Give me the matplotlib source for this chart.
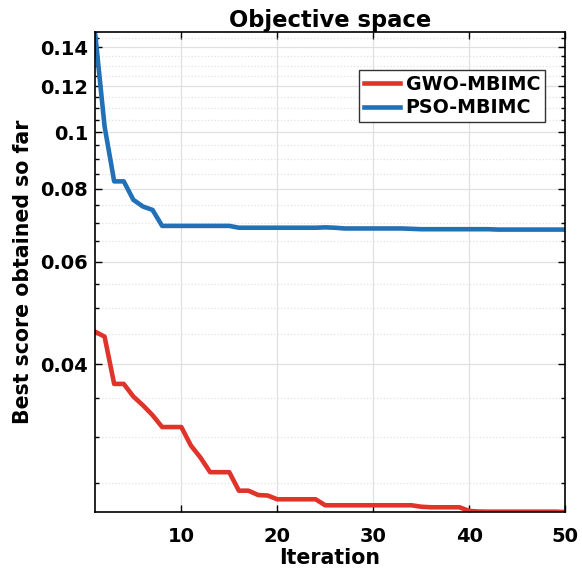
import numpy as np
import matplotlib
matplotlib.use("Agg")
import matplotlib.pyplot as plt
from matplotlib.ticker import FixedLocator, FuncFormatter, NullFormatter

# values
iterations = list(range(1, 51))
gwo_scores = [0.0455, 0.0446, 0.0370, 0.0370, 0.0352, 0.0340, 0.0327, 0.0312, 0.0312, 0.0312,
              0.0290, 0.02765, 0.0261, 0.0261, 0.0261, 0.02426, 0.02426, 0.02385, 0.0238, 0.02345,
              0.02345, 0.02345, 0.02345, 0.02345, 0.0229, 0.0229, 0.0229, 0.0229, 0.0229, 0.0229,
              0.0229, 0.0229, 0.0229, 0.0229, 0.02277, 0.02272, 0.02272, 0.02272, 0.02272, 0.0224,
              0.02234, 0.02233, 0.02233, 0.02233, 0.02233, 0.02233, 0.02233, 0.02233, 0.02233, 0.0223]
pso_scores = [0.1487, 0.1024, 0.0824, 0.0824, 0.0766, 0.0746, 0.0736, 0.0691, 0.0691, 0.0691,
              0.0691, 0.0691, 0.0691, 0.0691, 0.0691, 0.0686, 0.0686, 0.0686, 0.0686, 0.0686,
              0.0686, 0.0686, 0.0686, 0.0686, 0.0687, 0.0686, 0.0684, 0.0684, 0.0684, 0.0684,
              0.0684, 0.0684, 0.0684, 0.0683, 0.0682, 0.0682, 0.0682, 0.0682, 0.0682, 0.0682,
              0.0682, 0.0682, 0.0681, 0.0681, 0.0681, 0.0681, 0.0681, 0.0681, 0.0681, 0.0681]
labels = ["GWO-MBIMC", "PSO-MBIMC"]
y_major = [0.04, 0.06, 0.08, 0.1, 0.12, 0.14]
x_major = [10, 20, 30, 40, 50]

plt.rcParams["font.family"] = ["DejaVu Sans"]
plt.rcParams["font.weight"] = "bold"

fig = plt.figure(figsize=(5.82, 5.78), dpi=100)
ax = fig.add_axes([0.1632, 0.1142, 0.8076, 0.8304])

ax.plot(iterations, gwo_scores, color="#e0332a", linewidth=3.3, label=labels[0])
ax.plot(iterations, pso_scores, color="#2270b6", linewidth=3.3, label=labels[1])

ax.set_yscale("log")
ax.set_xlim(1, 50)
ax.set_ylim(min(gwo_scores), max(pso_scores))

ax.xaxis.set_major_locator(FixedLocator(x_major))
ax.yaxis.set_major_locator(FixedLocator(y_major))
ax.yaxis.set_major_formatter(FuncFormatter(lambda v, p: "%g" % v))
minors = [round(v, 3) for v in np.arange(0.02, 0.15, 0.005)]
minors = [v for v in minors if all(abs(v - m) > 1e-6 for m in y_major)]
ax.yaxis.set_minor_locator(FixedLocator(minors))
ax.yaxis.set_minor_formatter(NullFormatter())

ax.grid(True, which="major", color="#e0e0e0", linewidth=0.9, linestyle="-")
ax.grid(True, which="minor", axis="y", color="#e2e2e2", linewidth=0.9, linestyle=":")
ax.set_axisbelow(True)

ax.tick_params(which="both", direction="in", top=True, right=True, width=1.0)
ax.tick_params(which="major", length=5, labelsize=14)
ax.tick_params(axis="x", which="major", pad=11)
ax.tick_params(axis="y", which="major", pad=5)
ax.tick_params(which="minor", length=3)
for lbl in ax.get_xticklabels() + ax.get_yticklabels():
    lbl.set_fontweight("bold")
for s in ax.spines.values():
    s.set_linewidth(1.2)
    s.set_color("black")

ax.set_title("Objective space", fontsize=16.3, fontweight="bold", pad=2.5)
ax.set_xlabel("Iteration", fontsize=14.8, fontweight="bold", labelpad=1.5)
ax.set_ylabel("Best score obtained so far", fontsize=14.8, fontweight="bold", labelpad=5)

leg = ax.legend(loc="upper right", bbox_to_anchor=(0.957, 0.921), fontsize=13.7,
                frameon=True, fancybox=False, framealpha=1, edgecolor="#333333",
                handlelength=1.9, handletextpad=0.3, borderpad=0.25, labelspacing=0.25,
                borderaxespad=0)
leg.get_frame().set_linewidth(1.0)
for t in leg.get_texts():
    t.set_fontweight("bold")

fig.savefig("out.png", dpi=100)
